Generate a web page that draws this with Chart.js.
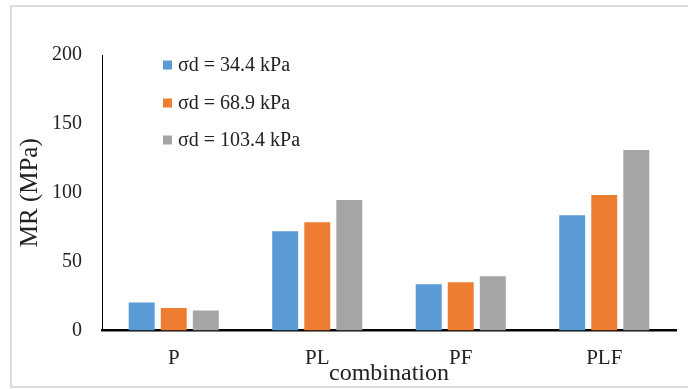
<!DOCTYPE html>
<html>
<head>
<meta charset="utf-8">
<script src="https://cdn.jsdelivr.net/npm/chart.js"></script>
<style>
  html, body { margin: 0; padding: 0; background: #fff; }
  #wrap { position: relative; width: 688px; height: 389px; overflow: hidden; }
  #frame {
    position: absolute; left: 10px; top: 5px; width: 700px; height: 379px;
    border: 2px solid #dcdcdc; border-right: none;
  }
  #mrChart { position: absolute; left: 0; top: 0; }
</style>
</head>
<body>
<div id="wrap">
  <div id="frame"></div>
  <canvas id="mrChart" width="688" height="389"></canvas>
</div>
<script>
// Data
const combinations = ['P', 'PL', 'PF', 'PLF'];
const seriesLabels = ['σd = 34.4 kPa', 'σd = 68.9 kPa', 'σd = 103.4 kPa'];
const mr344 = [20.3, 72, 33.6, 83.7];
const mr689 = [16.3, 78.6, 35, 98.3];
const mr1034 = [14.6, 94.8, 39.4, 131];
const yTicks = [0, 50, 100, 150, 200];

const colors = ['#5B9BD5', '#ED7D31', '#A5A5A5'];
const serif = '"Liberation Serif", "Times New Roman", serif';

// Vertical legend drawn inside the plot, like the original
const insideLegend = {
    id: 'insideLegend',
    afterDatasetsDraw(chart) {
        const ctx = chart.ctx;
        const area = chart.chartArea;
        const x = area.left + 61;
        const rowY = [10, 48, 85];
        ctx.save();
        ctx.font = '20px ' + serif;
        ctx.textBaseline = 'middle';
        ctx.textAlign = 'left';
        chart.data.datasets.forEach((ds, i) => {
            const y = area.top + rowY[i];
            ctx.fillStyle = ds.backgroundColor;
            ctx.fillRect(x, y - 4.5, 9, 9);
            ctx.fillStyle = '#222';
            ctx.fillText(ds.label, x + 15, y + 1);
        });
        ctx.restore();
    }
};

const seriesData = [mr344, mr689, mr1034];

new Chart(document.getElementById('mrChart'), {
    type: 'bar',
    data: {
        labels: combinations,
        datasets: seriesLabels.map((label, i) => ({
            label: label,
            data: seriesData[i],
            backgroundColor: colors[i],
            borderWidth: 0,
            categoryPercentage: 0.67,
            barPercentage: 0.81
        }))
    },
    options: {
        responsive: false,
        animation: false,
        layout: { padding: { top: 55, right: 12, left: 10, bottom: 0 } },
        plugins: {
            legend: { display: false },
            tooltip: { enabled: false }
        },
        scales: {
            x: {
                grid: { display: false, drawTicks: false },
                border: { display: true, color: '#000', width: 2.5 },
                ticks: {
                    color: '#222',
                    padding: 15,
                    font: { family: serif, size: 21 }
                },
                title: {
                    display: true,
                    text: 'combination',
                    color: '#222',
                    font: { family: serif, size: 24 },
                    padding: { top: 0, bottom: 1 }
                },
                afterFit(scale) { scale.height = 58.5; }
            },
            y: {
                min: 0,
                max: 200,
                afterBuildTicks(scale) { scale.ticks = yTicks.map(v => ({ value: v })); },
                grid: { display: false, drawTicks: false },
                border: { display: true, color: '#000', width: 1 },
                ticks: {
                    color: '#222',
                    padding: 20,
                    font: { family: serif, size: 20 }
                },
                title: {
                    display: true,
                    text: 'MR (MPa)',
                    color: '#222',
                    font: { family: serif, size: 25 },
                    padding: { top: 5, bottom: 0 }
                },
                afterFit(scale) { scale.width = 92; }
            }
        }
    },
    plugins: [insideLegend]
});
</script>
</body>
</html>
